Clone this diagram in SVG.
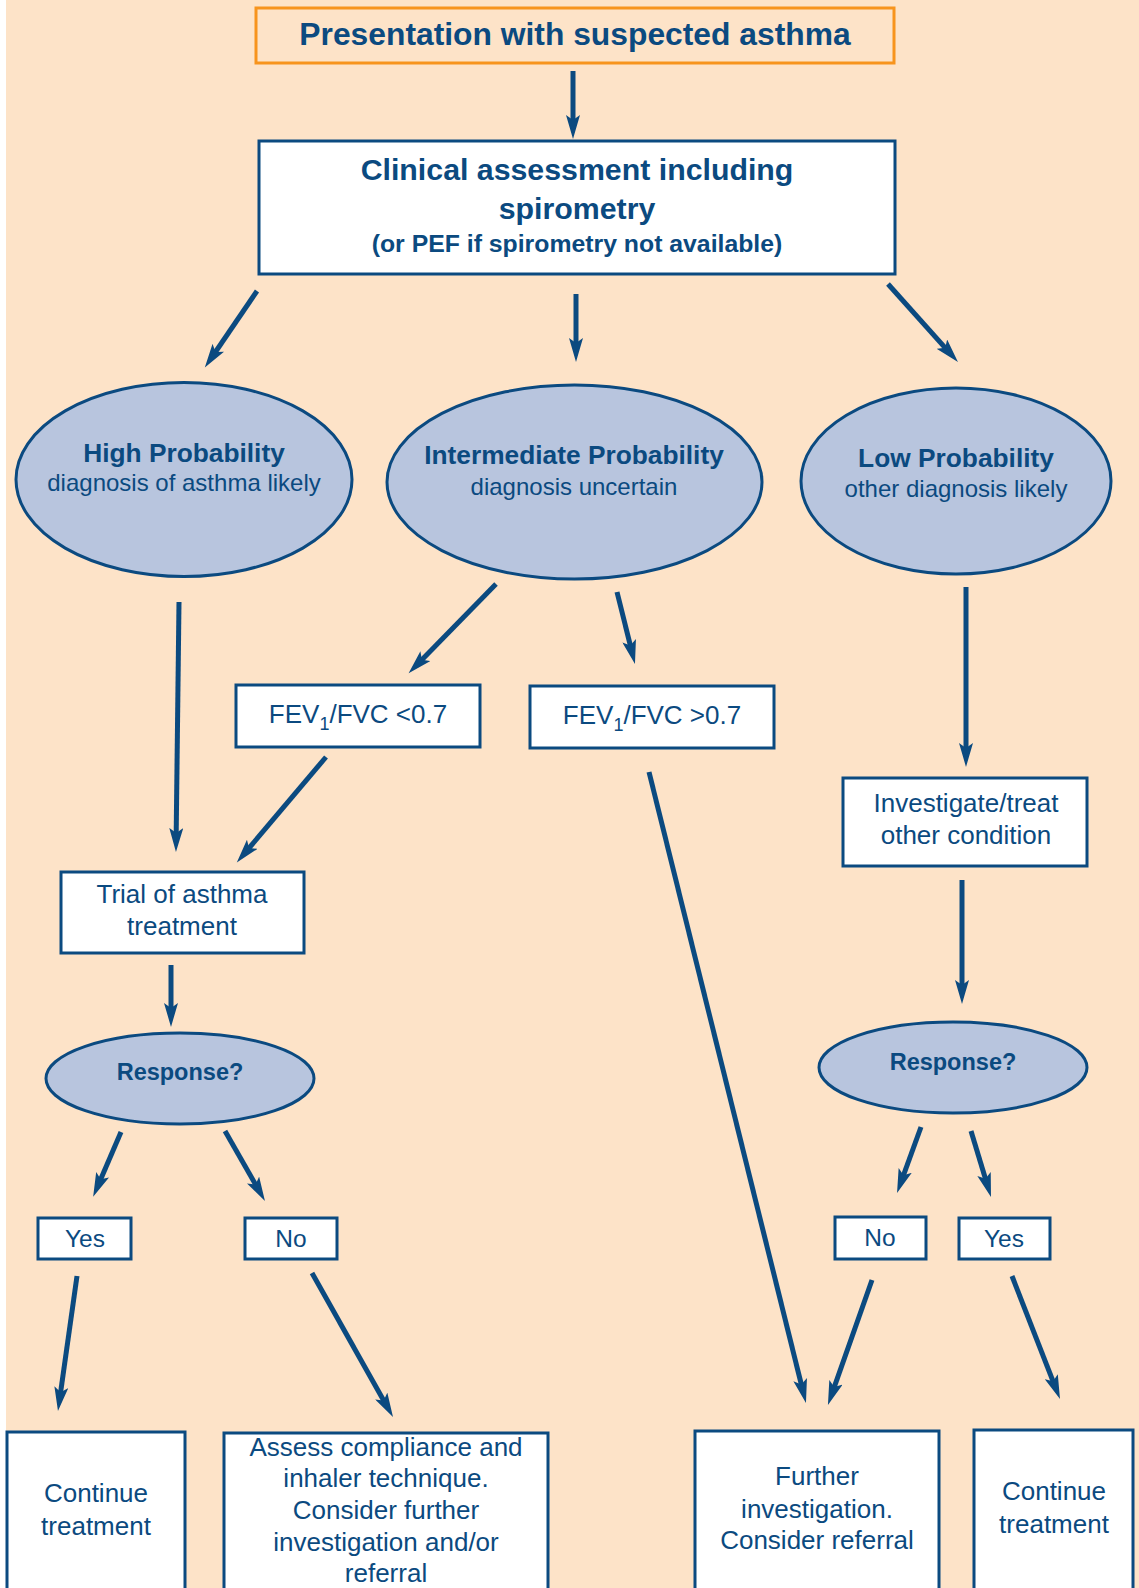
<svg xmlns="http://www.w3.org/2000/svg" width="1139" height="1588" viewBox="0 0 1139 1588">
<defs>
<style>
.bg{fill:#FDE3C8}
.box{fill:#FFFFFF;stroke:#0B4A80;stroke-width:3}
.ell{fill:#B8C5DE;stroke:#0B4A80;stroke-width:3}
.t{font-family:"Liberation Sans",Arial,sans-serif;fill:#0B4A80;text-anchor:middle}
.b{font-weight:bold}
.c line{stroke:#0B4A80;stroke-width:5;marker-end:url(#ah)}
</style>
<marker id="ah" markerUnits="userSpaceOnUse" markerWidth="26" markerHeight="14" refX="13" refY="7" orient="auto">
<path d="M0,0 L24,7 L0,14 L5,7 z" fill="#0B4A80"/>
</marker>
</defs>
<rect x="0" y="0" width="1139" height="1588" fill="#FFFFFF"/>
<rect class="bg" x="6" y="0" width="1133" height="1588"/>

<g id="connectors" class="c">
<line x1="573" y1="71" x2="573" y2="128"/>
<line x1="257" y1="291" x2="211" y2="358.5"/>
<line x1="576" y1="294" x2="576" y2="351"/>
<line x1="888" y1="284" x2="950.6" y2="353.8"/>
<line x1="496" y1="584" x2="416.3" y2="665.5"/>
<line x1="617" y1="592" x2="632.3" y2="653.3"/>
<line x1="326" y1="757" x2="243.9" y2="854.2"/>
<line x1="179" y1="602" x2="176.1" y2="841"/>
<line x1="171" y1="965" x2="171" y2="1016"/>
<line x1="121" y1="1132" x2="97.5" y2="1186.7"/>
<line x1="225" y1="1131" x2="259.5" y2="1191.4"/>
<line x1="77" y1="1276" x2="59.5" y2="1400.1"/>
<line x1="312" y1="1273" x2="387.6" y2="1407.4"/>
<line x1="966" y1="587" x2="966" y2="756"/>
<line x1="962" y1="880" x2="962" y2="993"/>
<line x1="921" y1="1127" x2="900.8" y2="1182.7"/>
<line x1="971" y1="1131" x2="987.8" y2="1186.5"/>
<line x1="872" y1="1280" x2="831.6" y2="1394.6"/>
<line x1="1012" y1="1276" x2="1056" y2="1388.8"/>
<line x1="649" y1="772" x2="803.3" y2="1392.3"/>
</g>

<g id="presentation">
<rect x="256" y="8" width="638" height="55" fill="#FDE3C8" stroke="#F7941D" stroke-width="3"/>
<text class="t b" x="575" y="45" font-size="31.8">Presentation with suspected asthma</text>
</g>

<g id="clinical">
<rect class="box" x="259" y="141" width="636" height="133"/>
<text class="t b" x="577" y="180" font-size="30.3">Clinical assessment including</text>
<text class="t b" x="577" y="219" font-size="30.3">spirometry</text>
<text class="t b" x="577" y="252" font-size="24.8">(or PEF if spirometry not available)</text>
</g>

<g id="high">
<ellipse class="ell" cx="184" cy="479.5" rx="168" ry="97"/>
<text class="t b" x="184" y="462" font-size="26.3">High Probability</text>
<text class="t" x="184" y="491" font-size="24">diagnosis of asthma likely</text>
</g>

<g id="intermediate">
<ellipse class="ell" cx="574.5" cy="482" rx="187.5" ry="97"/>
<text class="t b" x="574" y="464" font-size="26.3">Intermediate Probability</text>
<text class="t" x="574" y="495" font-size="24">diagnosis uncertain</text>
</g>

<g id="low">
<ellipse class="ell" cx="956" cy="481" rx="155" ry="93"/>
<text class="t b" x="956" y="467" font-size="26.3">Low Probability</text>
<text class="t" x="956" y="497" font-size="24">other diagnosis likely</text>
</g>

<g id="fev-low">
<rect class="box" x="236" y="685" width="244" height="62"/>
<text class="t" x="358" y="723" font-size="26">FEV<tspan font-size="18" dy="7">1</tspan><tspan dy="-7">/FVC &lt;0.7</tspan></text>
</g>

<g id="fev-high">
<rect class="box" x="530" y="686" width="244" height="62"/>
<text class="t" x="652" y="724" font-size="26">FEV<tspan font-size="18" dy="7">1</tspan><tspan dy="-7">/FVC &gt;0.7</tspan></text>
</g>

<g id="trial">
<rect class="box" x="61" y="872" width="243" height="81"/>
<text class="t" x="182" y="903" font-size="26">Trial of asthma</text>
<text class="t" x="182" y="935" font-size="26">treatment</text>
</g>

<g id="investigate">
<rect class="box" x="843" y="778" width="244" height="88"/>
<text class="t" x="966" y="812" font-size="26">Investigate/treat</text>
<text class="t" x="966" y="844" font-size="26">other condition</text>
</g>

<g id="response-left">
<ellipse class="ell" cx="180" cy="1078.5" rx="134" ry="45.5"/>
<text class="t b" x="180" y="1080" font-size="23.5">Response?</text>
</g>

<g id="response-right">
<ellipse class="ell" cx="953" cy="1067.5" rx="134" ry="45.5"/>
<text class="t b" x="953" y="1070" font-size="23.5">Response?</text>
</g>

<g id="yes-left">
<rect class="box" x="38" y="1218" width="93" height="41"/>
<text class="t" x="85" y="1247" font-size="24.5">Yes</text>
</g>

<g id="no-left">
<rect class="box" x="245" y="1218" width="92" height="41"/>
<text class="t" x="291" y="1247" font-size="24.5">No</text>
</g>

<g id="no-right">
<rect class="box" x="835" y="1217" width="91" height="42"/>
<text class="t" x="880" y="1246" font-size="24.5">No</text>
</g>

<g id="yes-right">
<rect class="box" x="959" y="1218" width="91" height="41"/>
<text class="t" x="1004" y="1247" font-size="24.5">Yes</text>
</g>

<g id="continue-left">
<rect class="box" x="7" y="1432" width="178" height="170"/>
<text class="t" x="96" y="1502" font-size="26">Continue</text>
<text class="t" x="96" y="1535" font-size="26">treatment</text>
</g>

<g id="assess">
<rect class="box" x="224" y="1433" width="324" height="170"/>
<text class="t" x="386" y="1456" font-size="26">Assess compliance and</text>
<text class="t" x="386" y="1487" font-size="26">inhaler technique.</text>
<text class="t" x="386" y="1519" font-size="26">Consider further</text>
<text class="t" x="386" y="1551" font-size="26">investigation and/or</text>
<text class="t" x="386" y="1582" font-size="26">referral</text>
</g>

<g id="further">
<rect class="box" x="695" y="1431" width="244" height="172"/>
<text class="t" x="817" y="1485" font-size="26">Further</text>
<text class="t" x="817" y="1518" font-size="26">investigation.</text>
<text class="t" x="817" y="1549" font-size="26">Consider referral</text>
</g>

<g id="continue-right">
<rect class="box" x="974" y="1430" width="159" height="172"/>
<text class="t" x="1054" y="1500" font-size="26">Continue</text>
<text class="t" x="1054" y="1533" font-size="26">treatment</text>
</g>
</svg>
